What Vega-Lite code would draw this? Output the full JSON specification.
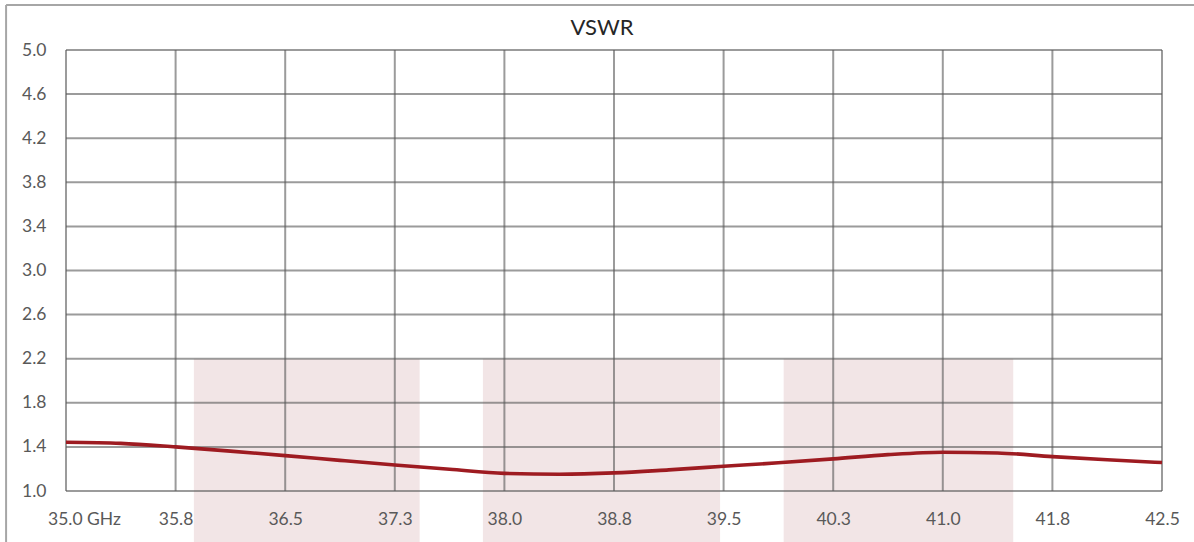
{
  "$schema": "https://vega.github.io/schema/vega-lite/v6.json",
  "title": {"text": "VSWR", "fontSize": 22, "font": "Lato", "fontWeight": "normal", "color": "#262626", "frame": "group", "anchor": "middle", "offset": -36, "dx": -12},
  "width": 1096,
  "height": 441,
  "autosize": {"type": "none"},
  "padding": {"left": 66, "top": 50, "right": 32, "bottom": 51},
  "datasets": {
    "vswr": [
      {"freq": 35.0, "vswr": 1.442},
      {"freq": 35.375, "vswr": 1.432},
      {"freq": 35.75, "vswr": 1.40},
      {"freq": 36.125, "vswr": 1.362},
      {"freq": 36.5, "vswr": 1.321},
      {"freq": 36.875, "vswr": 1.278},
      {"freq": 37.25, "vswr": 1.236},
      {"freq": 37.625, "vswr": 1.197},
      {"freq": 38.0, "vswr": 1.160},
      {"freq": 38.375, "vswr": 1.152},
      {"freq": 38.75, "vswr": 1.164},
      {"freq": 39.125, "vswr": 1.192},
      {"freq": 39.5, "vswr": 1.224},
      {"freq": 39.875, "vswr": 1.256},
      {"freq": 40.25, "vswr": 1.291},
      {"freq": 40.625, "vswr": 1.330},
      {"freq": 41.0, "vswr": 1.352},
      {"freq": 41.375, "vswr": 1.345},
      {"freq": 41.75, "vswr": 1.312},
      {"freq": 42.125, "vswr": 1.283},
      {"freq": 42.5, "vswr": 1.258}
    ],
    "bands": [
      {"start": 35.875, "end": 37.42},
      {"start": 37.853, "end": 39.476},
      {"start": 39.911, "end": 41.482}
    ],
    "xgrid": [
      {"f": 35.0}, {"f": 35.75}, {"f": 36.5}, {"f": 37.25}, {"f": 38.0}, {"f": 38.75},
      {"f": 39.5}, {"f": 40.25}, {"f": 41.0}, {"f": 41.75}, {"f": 42.5}
    ],
    "ygrid": [
      {"v": 1.0}, {"v": 1.4}, {"v": 1.8}, {"v": 2.2}, {"v": 2.6}, {"v": 3.0},
      {"v": 3.4}, {"v": 3.8}, {"v": 4.2}, {"v": 4.6}, {"v": 5.0}
    ]
  },
  "layer": [
    {
      "data": {"name": "bands"},
      "mark": {"type": "rect", "color": "#f2e5e6"},
      "encoding": {
        "x": {"field": "start", "type": "quantitative"},
        "x2": {"field": "end"},
        "y": {"datum": 2.2, "type": "quantitative"},
        "y2": {"datum": 0.5}
      }
    },
    {
      "data": {"name": "xgrid"},
      "mark": {"type": "rule", "color": "#595959", "opacity": 0.6, "strokeWidth": 2},
      "encoding": {
        "x": {"field": "f", "type": "quantitative"},
        "y": {"datum": 5.0, "type": "quantitative"},
        "y2": {"datum": 1.0}
      }
    },
    {
      "data": {"name": "ygrid"},
      "mark": {"type": "rule", "color": "#595959", "opacity": 0.6, "strokeWidth": 2},
      "encoding": {
        "y": {"field": "v", "type": "quantitative"},
        "x": {"datum": 35.0, "type": "quantitative"},
        "x2": {"datum": 42.5}
      }
    },
    {
      "data": {"values": [{}]},
      "mark": {"type": "rule", "color": "#a6a6a6", "strokeWidth": 2},
      "encoding": {
        "x": {"datum": 34.59, "type": "quantitative"},
        "x2": {"datum": 43.5},
        "y": {"datum": 5.408, "type": "quantitative"}
      }
    },
    {
      "data": {"values": [{}]},
      "mark": {"type": "rule", "color": "#a6a6a6", "strokeWidth": 2},
      "encoding": {
        "x": {"datum": 34.59, "type": "quantitative"},
        "y": {"datum": 5.408, "type": "quantitative"},
        "y2": {"datum": 0.4}
      }
    },
    {
      "data": {"name": "vswr"},
      "mark": {"type": "line", "color": "#9e1b21", "strokeWidth": 3.6, "interpolate": "monotone"},
      "encoding": {
        "x": {
          "field": "freq",
          "type": "quantitative",
          "scale": {"domain": [35, 42.5], "nice": false, "zero": false},
          "axis": {
            "values": [35.0, 35.75, 36.5, 37.25, 38.0, 38.75, 39.5, 40.25, 41.0, 41.75, 42.5],
            "labelExpr": "datum.value == 35 ? '35.0 GHz' : format(datum.value, '.1f')",
            "title": null,
            "zindex": 2,
            "labelPadding": 19,
            "labelFlush": false,
            "labelAlign": "center",
            "labelOffset": {"condition": {"test": "datum.value == 35", "value": 18}, "value": 0}
          }
        },
        "y": {
          "field": "vswr",
          "type": "quantitative",
          "scale": {"domain": [1, 5], "nice": false, "zero": false},
          "axis": {
            "values": [1.0, 1.4, 1.8, 2.2, 2.6, 3.0, 3.4, 3.8, 4.2, 4.6, 5.0],
            "format": ".1f",
            "title": null,
            "zindex": 2,
            "labelPadding": 20
          }
        }
      }
    }
  ],
  "config": {
    "view": {"stroke": null},
    "axis": {
      "grid": false,
      "domain": false,
      "ticks": false,
      "tickSize": 0,
      "labelFont": "Lato",
      "labelFontSize": 17.5,
      "labelColor": "#595959",
      "labelOverlap": false
    }
  }
}
